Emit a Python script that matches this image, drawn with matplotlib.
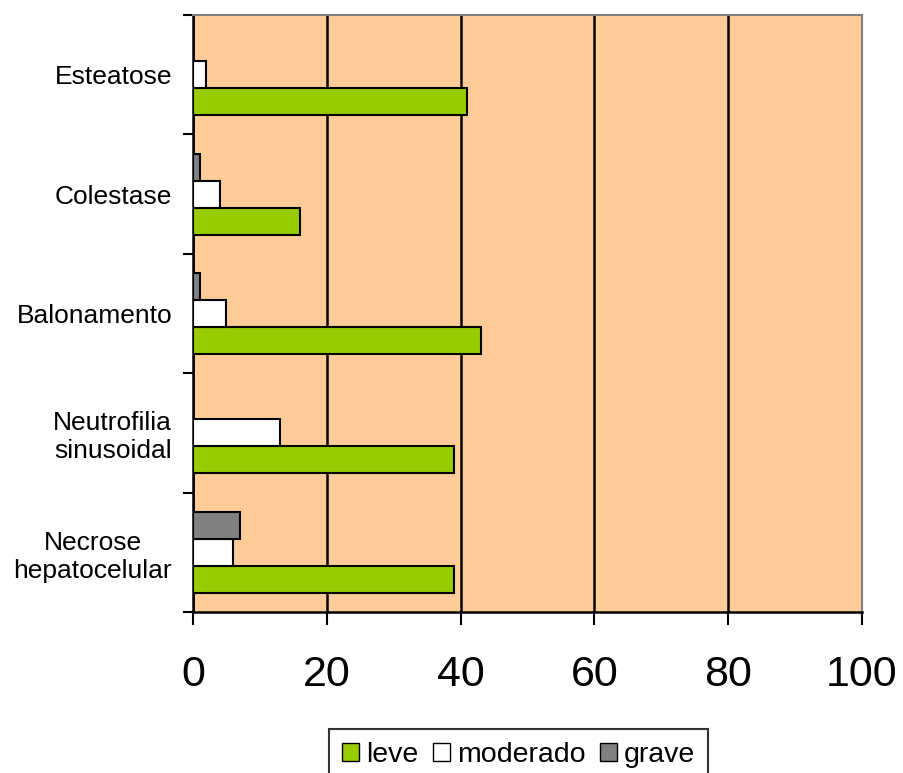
import numpy as np
import matplotlib.pyplot as plt
from matplotlib import font_manager
from matplotlib.patches import Patch

plt.rcParams["font.family"] = ["Liberation Sans", "DejaVu Sans"]

categorias = ["Esteatose", "Colestase", "Balonamento",
              "Neutrofilia\nsinusoidal", "Necrose\nhepatocelular"]
leve = [41, 16, 43, 39, 39]
moderado = [2, 4, 5, 13, 6]
grave = [0, 1, 1, 0, 7]

cor_leve = "#99CC00"
cor_moderado = "#FFFFFF"
cor_grave = "#808080"

# os numeros do eixo x sao numa fonte estreita
nomes = {f.name for f in font_manager.fontManager.ttflist}
if "Liberation Sans Narrow" in nomes:
    fonte_x, tam_x = "Liberation Sans Narrow", 36
else:
    fonte_x, tam_x = "Liberation Sans", 31

fig = plt.figure(figsize=(9.04, 7.73), dpi=100)
ax = fig.add_axes([0.2135, 0.2083, 0.74, 0.7723])
ax.set_facecolor("#FFCC99")

n = len(categorias)
y = np.arange(n)[::-1]
h = 0.226

ax.barh(y - h, leve, height=h, color=cor_leve, edgecolor="black", linewidth=1.5, zorder=3)
ax.barh(y, moderado, height=h, color=cor_moderado, edgecolor="black", linewidth=1.5, zorder=3)
ax.barh(y + h, grave, height=h, color=cor_grave, edgecolor="black", linewidth=1.5, zorder=3)

ax.set_xlim(0, 100)
ax.set_ylim(-0.5, n - 0.5)
ax.set_xticks([0, 20, 40, 60, 80, 100])
ax.set_xticklabels(["0", "20", "40", "60", "80", "100"], family=fonte_x, fontsize=tam_x)
ax.xaxis.grid(True, color="black", linewidth=1.8, zorder=1)
ax.tick_params(axis="x", length=9, width=1.5, direction="out", pad=22)

ax.set_yticks(y)
ax.set_yticklabels(categorias, fontsize=19, ha="right", multialignment="center")
ax.tick_params(axis="y", which="major", length=0, pad=15)
ax.set_yticks(np.arange(-0.5, n), minor=True)
ax.tick_params(axis="y", which="minor", length=7.5, width=1.5, direction="out")

ax.spines["left"].set_linewidth(1.8)
ax.spines["bottom"].set_linewidth(1.8)
ax.spines["top"].set_color("#808080")
ax.spines["right"].set_color("#808080")
ax.spines["top"].set_linewidth(1.5)
ax.spines["right"].set_linewidth(1.5)

handles = [Patch(facecolor=cor_leve, edgecolor="black", label="leve"),
           Patch(facecolor=cor_moderado, edgecolor="black", label="moderado"),
           Patch(facecolor=cor_grave, edgecolor="black", label="grave")]
leg = fig.legend(handles=handles, loc="upper center", bbox_to_anchor=(0.574, 1 - 729 / 773),
                 ncol=3, fontsize=20.5, frameon=True, fancybox=False,
                 handlelength=0.6, handleheight=0.6, handletextpad=0.25,
                 columnspacing=0.5, borderpad=0.45, borderaxespad=0)
leg.get_frame().set_edgecolor("black")
leg.get_frame().set_linewidth(1.5)

fig.savefig("out.png", dpi=100)
